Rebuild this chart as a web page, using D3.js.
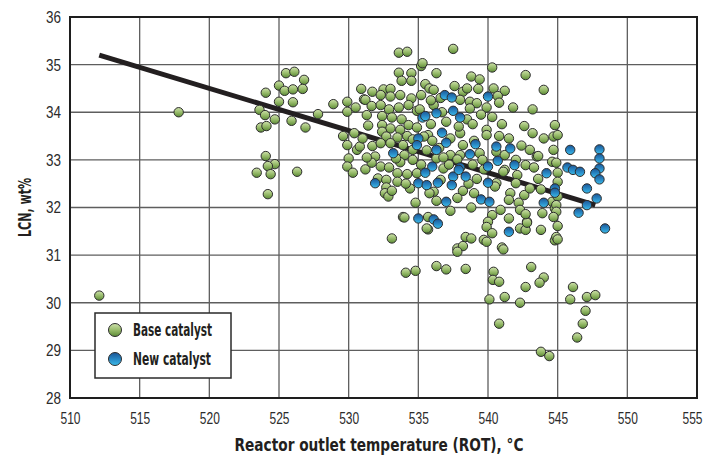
<!DOCTYPE html>
<html>
<head>
<meta charset="utf-8">
<script src="https://cdn.jsdelivr.net/npm/d3@7"></script>
<style>
  body { margin: 0; background: #fff; }
  text { font-family: "Liberation Sans Narrow", "DejaVu Sans Condensed", sans-serif; }
</style>
</head>
<body>
<svg id="chart" width="710" height="458"></svg>
<script>
// Axis ticks
const xTicks = [510, 515, 520, 525, 530, 535, 540, 545, 550, 555];
const yTicks = [28, 29, 30, 31, 32, 33, 34, 35, 36];

// [ROT °C, LCN wt%] for the base catalyst runs
const baseCatalyst = [
  [512.1,30.15],[517.8,34.0],
  [525.5,34.82],[526.1,34.85],[526.8,34.68],[525.0,34.56],[525.4,34.45],[526.0,34.48],[526.7,34.49],
  [524.05,34.41],[525.0,34.22],[526.0,34.21],[523.6,34.05],[524.0,33.94],[524.7,33.85],[525.9,33.82],
  [523.7,33.68],[524.1,33.71],[526.9,33.68],[527.8,33.96],[528.9,34.17],[529.9,34.22],[529.9,34.01],
  [530.5,34.10],[530.9,34.49],[531.1,34.27],[531.7,34.43],[531.3,33.94],[529.6,33.5],[530.4,33.56],
  [529.9,33.31],[530.6,33.21],[530.8,33.28],[531.7,33.29],[530.0,33.03],[524.05,33.08],[524.7,32.91],
  [523.4,32.73],[526.3,32.75],[529.9,32.86],[524.2,32.87],[524.4,32.70],[524.2,32.28],
  [533.6,35.25],[534.2,35.27],[535.2,34.97],[535.3,35.03],[533.6,34.83],[534.5,34.82],[533.8,34.66],
  [534.5,34.66],[535.5,34.59],[532.5,34.48],[533.0,34.49],[532.3,34.36],[533.0,34.33],[533.7,34.36],
  [534.5,34.29],[535.2,34.36],[531.2,34.26],[531.65,34.13],[532.3,34.15],[532.9,34.06],[533.6,34.10],
  [534.3,34.15],[534.9,34.03],[532.4,33.92],[533.1,33.89],[533.8,33.85],[534.3,33.73],[532.4,33.73],
  [533.0,33.66],[533.7,33.63],[534.9,33.68],[532.4,33.59],[532.7,33.49],[533.5,33.47],[534.2,33.50],
  [534.6,33.43],[532.3,33.35],[533.0,33.35],[533.9,33.31],[534.6,33.21],[531.9,33.07],[534.0,33.10],
  [530.3,32.73],[531.2,32.80],[532.3,32.86],[531.65,32.94],[532.9,32.84],[533.5,32.72],[534.2,32.70],
  [532.1,32.61],[532.7,32.58],[533.5,32.54],[532.7,32.42],[532.6,32.30],[532.85,32.23],[533.9,31.80],
  [533.1,31.35],[534.6,33.0],[534.9,32.72],[535.7,31.80],[535.7,31.54],
  [537.5,35.33],[536.3,34.82],[540.3,34.94],[542.7,34.78],[538.8,34.75],[539.4,34.69],[535.8,34.50],
  [536.1,34.47],[538.2,34.43],[538.5,34.50],[539.3,34.49],[540.4,34.50],[541.2,34.45],[540.7,34.34],
  [538.0,34.26],[538.7,34.22],[539.2,34.19],[539.9,34.10],[536.1,34.15],[535.1,34.06],[537.0,33.80],
  [538.7,34.08],[541.0,33.75],[542.6,33.71],[539.9,33.63],[539.9,33.52],[538.0,33.56],[537.3,33.45],
  [535.7,33.52],[538.2,33.31],[538.0,33.10],[539.4,33.14],[537.3,33.10],[536.3,33.03],[542.7,32.89],
  [543.2,33.56],[544.0,33.45],[544.7,33.49],[543.0,33.21],[543.5,33.07],[544.6,32.96],[537.8,33.01],
  [536.8,32.82],[536.1,32.33],[536.3,32.14],[537.3,31.93],[538.8,32.0],[540.6,32.51],[541.2,32.79],
  [542.1,32.68],[542.0,32.51],[541.6,32.30],[542.6,32.26],[541.5,32.16],[542.2,32.10],[540.9,31.95],
  [540.3,31.84],[541.5,31.77],[542.3,31.95],[542.8,31.70],[542.3,31.56],[542.7,31.53],[543.8,31.53],
  [544.6,32.12],[544.8,31.98],[544.8,31.31],[538.4,31.38],[538.8,31.35],[539.7,31.32],[539.9,31.28],
  [537.8,31.14],[541.0,31.16],[535.6,31.56],[540.0,31.70],[539.9,31.59],[536.6,32.58],
  [544.0,34.47],[543.2,34.06],[544.8,33.73],[545.0,33.52],[540.6,33.17],[544.7,33.21],[543.6,33.08],
  [544.9,32.94],[541.2,33.10],[543.3,32.84],[545.0,32.73],[541.1,32.75],[540.5,32.44],[543.8,32.38],
  [545.0,32.54],[545.0,32.23],[544.9,32.05],[543.9,31.88],[544.9,31.91],[542.8,31.68],[545.0,31.61],
  [542.7,31.86],[544.7,31.80],[544.9,31.38],
  [538.2,31.19],[537.8,31.07],[540.3,31.46],[541.1,31.12],[545.0,31.33],[534.1,30.63],[534.8,30.67],
  [536.3,30.77],[537.0,30.70],[538.4,30.71],[540.4,30.65],[540.35,30.48],[540.8,30.44],[543.1,30.75],
  [544.0,30.53],[543.7,30.42],[542.7,30.33],[540.1,30.07],[541.2,30.12],[542.3,30.0],[540.8,29.56],
  [546.1,30.33],[545.9,30.07],[547.1,30.12],[547.7,30.16],[547.0,29.83],[546.8,29.56],[546.4,29.27],
  [543.8,28.97],[544.4,28.88],[534.0,31.79],
  [535.6,33.2],[536.0,33.4],[537.9,33.7],[538.5,33.85],[539.0,33.4],[539.6,33.0],[538.9,32.9],
  [537.2,32.9],[536.5,33.25],[539.2,32.6],[538.2,32.35],[539.0,32.3],[537.8,32.2],[535.2,32.9],
  [534.4,32.4],[534.8,32.1],[533.7,32.95],[535.8,32.3],[538.6,32.5],[539.7,32.8],[540.8,33.5],
  [541.5,33.45],[542.0,33.0],[542.4,33.3],[543.6,32.6],[543.0,32.4],[540.3,33.9],[541.8,34.1],
  [536.7,34.0],[537.6,34.55],[535.9,33.75],[538.9,33.75],[539.5,33.95],[540.8,34.2],[535.4,33.49],
  [531.4,33.72],[531.0,33.45],[535.9,34.25],[536.6,34.3],[531.3,33.05],[533.4,33.03],[536.8,33.05],
  [534.1,32.5],[533.1,32.35]
];

// [ROT °C, LCN wt%] for the new catalyst runs
const newCatalyst = [
  [535.3,33.89],[535.5,33.92],[535.0,33.45],[534.9,33.31],[533.2,33.14],
  [531.9,32.51],[535.0,32.51],[535.5,32.73],[535.6,32.47],[535.0,31.77],[536.1,31.75],[536.4,31.66],
  [536.9,34.36],[537.4,34.31],[540.0,34.33],[536.3,33.98],[537.5,34.03],[538.0,33.89],[536.7,33.57],
  [537.0,33.36],[539.1,33.33],[536.3,33.21],[538.7,33.12],[540.6,33.28],[541.6,33.24],[540.7,32.98],
  [541.9,32.89],[540.0,32.86],[538.0,32.84],[536.0,32.86],
  [537.5,32.65],[538.4,32.65],[540.0,32.52],[536.4,32.52],[544.2,32.72],[537.0,32.12],[539.5,32.17],
  [540.1,32.12],[544.0,32.10],[541.5,31.49],
  [545.9,33.21],[548.0,33.22],[548.0,33.03],[548.0,32.82],[547.7,32.72],[548.0,32.59],[545.7,32.84],
  [546.1,32.79],[546.6,32.75],[544.8,32.40],[544.8,32.31],[547.1,32.40],[547.8,32.19],[547.1,32.05],
  [546.5,31.89],[548.4,31.56],[537.4,32.47],[537.9,32.79]
];

// Linear fit through the data, end points
const trendLine = [[512.1, 35.2], [547.7, 32.05]];

const legendItems = [
  { label: "Base catalyst", key: "base" },
  { label: "New catalyst", key: "new" }
];

const svg = d3.select("#chart");
const plot = { left: 70, right: 697, top: 17, bottom: 398 };

const x = d3.scaleLinear().domain([510, 555]).range([plot.left, plot.right]);
const y = d3.scaleLinear().domain([28, 36]).range([plot.bottom, plot.top]);

// Gradients for the shaded markers
const defs = svg.append("defs");
const gGreen = defs.append("linearGradient").attr("id", "gradBase")
  .attr("x1", 0).attr("y1", 0).attr("x2", 0).attr("y2", 1);
gGreen.append("stop").attr("offset", "0%").attr("stop-color", "#cfe2ac");
gGreen.append("stop").attr("offset", "55%").attr("stop-color", "#93b866");
gGreen.append("stop").attr("offset", "100%").attr("stop-color", "#5b8a36");
const gBlue = defs.append("linearGradient").attr("id", "gradNew")
  .attr("x1", 0).attr("y1", 0).attr("x2", 0).attr("y2", 1);
gBlue.append("stop").attr("offset", "0%").attr("stop-color", "#1b5596");
gBlue.append("stop").attr("offset", "55%").attr("stop-color", "#2a8cc8");
gBlue.append("stop").attr("offset", "100%").attr("stop-color", "#3bbbe8");

// Grid
const grid = svg.append("g");
grid.selectAll(".gx").data(xTicks.slice(1, -1)).join("line")
  .attr("x1", d => x(d)).attr("x2", d => x(d))
  .attr("y1", plot.top).attr("y2", plot.bottom)
  .attr("stroke", "#5e5e5e").attr("stroke-width", 1.3);
grid.selectAll(".gy").data(yTicks.slice(1, -1)).join("line")
  .attr("x1", plot.left).attr("x2", plot.right)
  .attr("y1", d => y(d)).attr("y2", d => y(d))
  .attr("stroke", "#5e5e5e").attr("stroke-width", 1.3);

// Axes (labels only, frame drawn separately); the face is a narrow one,
// so each label is squeezed to its set width
const xAxis = svg.append("g").attr("transform", `translate(0,${plot.bottom})`)
  .call(d3.axisBottom(x).tickValues(xTicks).tickSize(0).tickPadding(14));
const yAxis = svg.append("g").attr("transform", `translate(${plot.left},0)`)
  .call(d3.axisLeft(y).tickValues(yTicks).tickSize(0).tickPadding(9));
[xAxis, yAxis].forEach(a => {
  a.select(".domain").remove();
  a.selectAll("text").attr("font-size", 17).attr("fill", "#2b2b2b")
    .style("font-family", '"Liberation Sans Narrow", sans-serif')
    .attr("lengthAdjust", "spacingAndGlyphs");
});
xAxis.selectAll("text").attr("textLength", 20);
yAxis.selectAll("text").attr("textLength", 15);
// keep the last x label inside the page edge
xAxis.selectAll("text").filter(d => d === xTicks[xTicks.length - 1]).attr("dx", -5);

// Trend line
svg.append("path")
  .datum(trendLine)
  .attr("d", d3.line().x(d => x(d[0])).y(d => y(d[1])))
  .attr("stroke", "#231f20").attr("stroke-width", 5).attr("fill", "none")
  .attr("stroke-linecap", "butt");

// Points
const r = 4.7;
svg.append("g").selectAll("circle").data(baseCatalyst).join("circle")
  .attr("cx", d => x(d[0])).attr("cy", d => y(d[1])).attr("r", r)
  .attr("fill", "url(#gradBase)").attr("stroke", "#2d2d2d").attr("stroke-width", 1);
svg.append("g").selectAll("circle").data(newCatalyst).join("circle")
  .attr("cx", d => x(d[0])).attr("cy", d => y(d[1])).attr("r", r)
  .attr("fill", "url(#gradNew)").attr("stroke", "#2d2d2d").attr("stroke-width", 1);

// Frame
svg.append("rect")
  .attr("x", plot.left).attr("y", plot.top)
  .attr("width", plot.right - plot.left).attr("height", plot.bottom - plot.top)
  .attr("fill", "none").attr("stroke", "#1e1e1e").attr("stroke-width", 2);

// Legend
const lg = svg.append("g").attr("transform", "translate(95,313)");
lg.append("rect").attr("width", 136).attr("height", 65)
  .attr("fill", "#fff").attr("stroke", "#2a2a2a").attr("stroke-width", 1.5);
const li = lg.selectAll(".li").data(legendItems).join("g")
  .attr("transform", (d, i) => `translate(0,${17 + i * 29})`);
li.append("circle").attr("cx", 20).attr("cy", 0).attr("r", 6.5)
  .attr("fill", d => d.key === "base" ? "url(#gradBase)" : "url(#gradNew)")
  .attr("stroke", "#2d2d2d").attr("stroke-width", 1);
li.append("text").attr("x", 38).attr("y", 6)
  .attr("font-size", 18).attr("font-weight", "bold").attr("fill", "#231f20")
  .attr("lengthAdjust", "spacingAndGlyphs")
  .attr("textLength", d => d.key === "base" ? 79 : 78)
  .text(d => d.label);

// Axis titles
svg.append("text")
  .attr("x", 379).attr("y", 451)
  .attr("text-anchor", "middle").attr("font-size", 18).attr("font-weight", "bold")
  .attr("fill", "#231f20")
  .attr("lengthAdjust", "spacingAndGlyphs").attr("textLength", 289)
  .text("Reactor outlet temperature (ROT), °C");
svg.append("text")
  .attr("transform", `translate(31,${(plot.top + plot.bottom) / 2}) rotate(-90)`)
  .attr("text-anchor", "middle").attr("font-size", 18).attr("font-weight", "bold")
  .attr("fill", "#231f20")
  .attr("lengthAdjust", "spacingAndGlyphs").attr("textLength", 59)
  .text("LCN, wt%");
</script>
</body>
</html>
